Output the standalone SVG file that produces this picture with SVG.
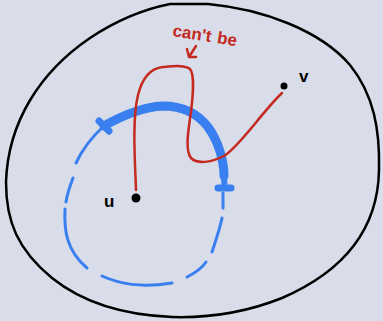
<svg xmlns="http://www.w3.org/2000/svg" width="383" height="321" viewBox="0 0 383 321">
<style>
.blk{fill:none;stroke:#000;stroke-width:2.5;stroke-linecap:round;stroke-linejoin:round}
.blu{fill:none;stroke:#3a7ff0;stroke-linecap:round;stroke-linejoin:round}
.red{fill:none;stroke:#c42a1f;stroke-width:2.5;stroke-linecap:round;stroke-linejoin:round}
.hand{font-family:"Liberation Sans",Arial,sans-serif;font-weight:bold}
</style>
<rect width="383" height="321" fill="#d8dde9"/>
<g id="region">
<path class="blk" d="M170,4 L208,4 C262,9 320,30 350,65 C374,95 380,130 379,170 C378,230 342,272 282,298 C242,314 205,318 172,317 C122,315 82,302 52,278 C18,250 6,222 6,182 C8,122 40,72 90,38 C120,18 150,8 170,4 Z"/>
</g>
<g id="connectors">
<path class="blu" stroke-width="9" d="M104,126 C125,114 143,107 163,106 C183,106 198,114 208,127 C219,142 224,162 224,176"/>
<path class="blu" stroke-width="6" d="M224,174 L224.5,188"/>
<path class="blu" stroke-width="7" d="M99,121 L109,131 M218,188 L231,188"/>
<path class="blu" stroke-width="3" d="M104,126 C93,136 83,148 76,163 M73,178 C70,186 67,194 66,202 M65,209 C64,230 66,250 87,268 M102,276 C120,284 140,288 172,283 M187,277 C195,273 202,268 206,262 M212,252 C216,240 220,228 222,218 M223,208 L223,193"/>
<path class="red" d="M136,190 C135,160 132,120 138,95 C143,75 153,68 163,67 C175,66 185,65 190,69 C195,75 193,95 191,112 C188,132 185,150 191,158 C197,164 210,163 224,156 C240,146 262,112 282,93"/>
<path class="red" d="M196,46 L189,57 M187,49 L189,57 L196,57"/>
</g>
<g id="u">
<circle cx="136" cy="198" r="4.5" fill="#000"/>
<text class="hand" x="104" y="207" font-size="17">u</text>
</g>
<g id="v">
<circle cx="284" cy="86" r="3.5" fill="#000"/>
<text class="hand" x="299" y="82" font-size="17">v</text>
</g>
<g id="label">
<text class="hand" x="172" y="36" font-size="17" fill="#c42a1f" transform="rotate(9 172 36)">can't<tspan dx="6">be</tspan></text>
</g>
</svg>
